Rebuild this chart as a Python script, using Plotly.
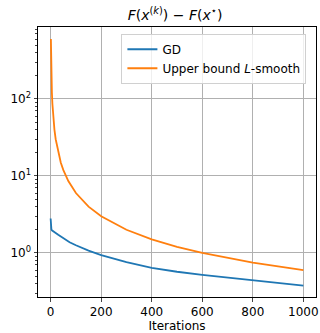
import plotly.graph_objects as go

# GD curve
gd_k = [0, 1, 2, 3, 5, 10, 20, 30, 50, 75, 100, 150, 200, 300, 400, 500, 600, 700, 800, 900, 1000]
gd_val = [2.8, 2.3, 2.1, 2.03, 1.97, 1.9, 1.82, 1.72, 1.55, 1.38, 1.26, 1.07, 0.94, 0.76, 0.64, 0.57, 0.52, 0.48, 0.445, 0.41, 0.376]

# Upper bound L-smooth curve
ub_k = [1, 2, 3, 4, 5, 7, 10, 15, 20, 30, 40, 50, 70, 100, 150, 200, 300, 400, 500, 600, 700, 800, 900, 1000]
ub_val = [600, 300, 200, 150, 120, 86, 60, 40, 30, 20, 15, 12, 8.6, 6.0, 4.0, 3.0, 2.0, 1.5, 1.2, 1.0, 0.86, 0.75, 0.67, 0.6]

x_ticks = [0, 200, 400, 600, 800, 1000]
y_ticks = [1, 10, 100]
y_tick_text = ["10<sup>0</sup>", "10<sup>1</sup>", "10<sup>2</sup>"]

fig = go.Figure()
fig.add_trace(go.Scatter(x=gd_k, y=gd_val, mode="lines", name="GD",
                         line=dict(color="#1f77b4", width=1.8)))
fig.add_trace(go.Scatter(x=ub_k, y=ub_val, mode="lines",
                         name="Upper bound <i>L</i>-smooth",
                         line=dict(color="#ff7f0e", width=1.8)))

fig.update_layout(
    width=320, height=333,
    margin=dict(l=38, r=4, t=27, b=36, autoexpand=False),
    paper_bgcolor="white", plot_bgcolor="white",
    font=dict(family="DejaVu Sans", size=12, color="black"),
    title=dict(text="<i>F</i>(<i>x</i><sup>(<i>k</i>)</sup>) − <i>F</i>(<i>x</i><sup>⋆</sup>)",
               x=0.547, xanchor="center", y=0.955, yanchor="middle",
               font=dict(size=14)),
    showlegend=True,
    legend=dict(x=0.3, y=0.975, xanchor="left", yanchor="top",
                bgcolor="rgba(255,255,255,0.8)", bordercolor="#d0d0d0", borderwidth=1,
                font=dict(size=12), tracegroupgap=0),
)
fig.update_xaxes(range=[-50, 1050], tickvals=x_ticks, ticks="outside", ticklen=3.5,
                 automargin=False,
                 showline=True, linecolor="black", linewidth=1, mirror=True,
                 showgrid=True, gridcolor="#b0b0b0", gridwidth=0.8, zeroline=False,
                 title=dict(text="Iterations", standoff=0, font=dict(size=12)))
fig.update_yaxes(type="log", range=[-0.572, 2.935], tickvals=y_ticks, ticktext=y_tick_text,
                 ticks="outside", ticklen=3.5, automargin=False,
                 showline=True, linecolor="black", linewidth=1, mirror=True,
                 showgrid=True, gridcolor="#b0b0b0", gridwidth=0.8, zeroline=False,
                 minor=dict(ticks="outside", ticklen=2, showgrid=False,
                            tickvals=[0.3, 0.4, 0.5, 0.6, 0.7, 0.8, 0.9,
                                      2, 3, 4, 5, 6, 7, 8, 9,
                                      20, 30, 40, 50, 60, 70, 80, 90,
                                      200, 300, 400, 500, 600, 700, 800]))

fig.write_html("out.html", config={"displayModeBar": False},
               post_script="document.body.style.margin='0';")
